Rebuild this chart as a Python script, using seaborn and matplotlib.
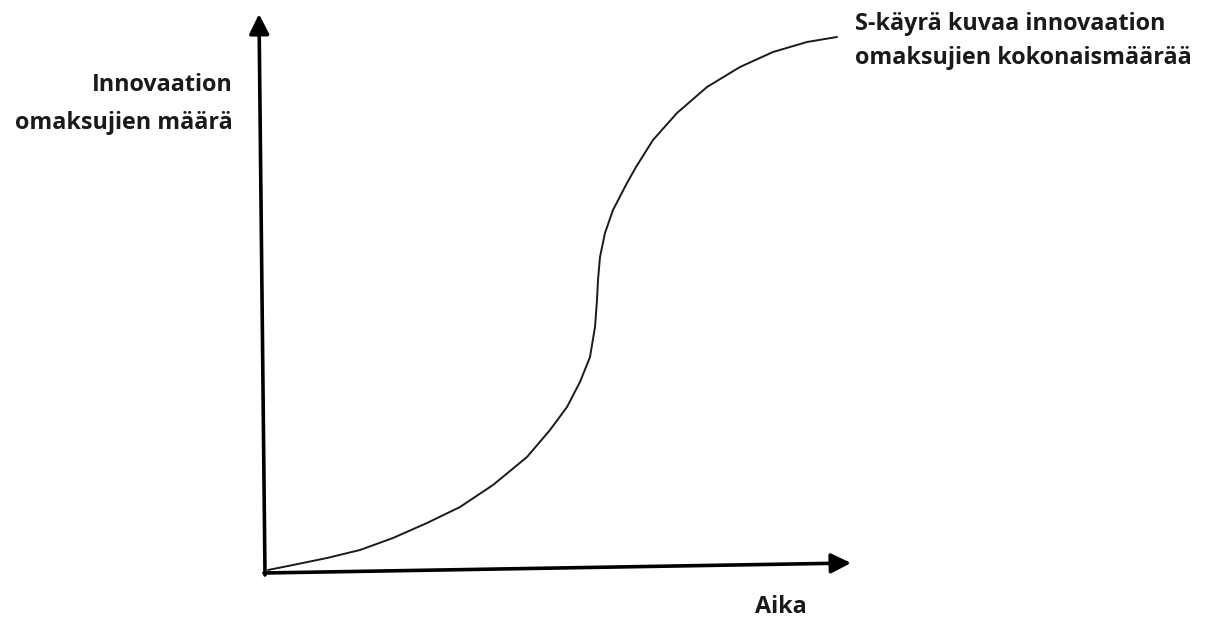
import numpy as np
import pandas as pd
import matplotlib
matplotlib.use("Agg")
import matplotlib.pyplot as plt
import seaborn as sns

# ========== data (pixel-like units, y grows downwards) ==========
curve_x = [268, 293, 327, 360, 393, 427, 460, 493, 527, 550, 567, 580, 590,
           595, 597, 598, 600, 605, 613, 627, 636, 653, 677, 707, 740, 773,
           807, 837]
curve_y = [570, 565, 558, 550, 538, 523, 507, 485, 457, 430, 407, 382, 357,
           327, 300, 280, 257, 233, 210, 183, 167, 140, 113, 87, 67, 52,
           42, 37]

y_axis_x = [265, 259]
y_axis_y = [575, 14]
x_axis_x = [264, 851]
x_axis_y = [573, 563]

y_label = "Innovaation\nomaksujien määrä"
x_label = "Aika"
curve_note = "S-käyrä kuvaa innovaation\nomaksujien kokonaismäärää"

# ========== plot ==========
sns.set_theme(style="white")
plt.rcParams["font.family"] = ["Open Sans", "DejaVu Sans"]

fig = plt.figure(figsize=(12.05, 6.18), dpi=100)
ax = fig.add_axes([0, 0, 1, 1])
ax.set_xlim(0, 1205)
ax.set_ylim(618, 0)
ax.axis("off")

df = pd.DataFrame({"x": curve_x, "y": curve_y})
sns.lineplot(data=df, x="x", y="y", sort=False, ax=ax, color="#1a1a1a",
             linewidth=1.4, solid_joinstyle="round", solid_capstyle="round")

arrow = dict(arrowstyle="-|>,head_length=0.6,head_width=0.3",
             color="black", lw=2.6, mutation_scale=20, shrinkA=0, shrinkB=0)
ax.annotate("", xy=(y_axis_x[1], y_axis_y[1]), xytext=(y_axis_x[0], y_axis_y[0]),
            arrowprops=arrow)
ax.annotate("", xy=(x_axis_x[1], x_axis_y[1]), xytext=(x_axis_x[0], x_axis_y[0]),
            arrowprops=arrow)

txt = dict(fontsize=16.8, fontweight="bold", color="#1a1a1a")
ax.text(233, 104, y_label, ha="right", va="center", linespacing=1.8, **txt)
ax.text(855, 41, curve_note, ha="left", va="center", linespacing=1.6, **txt)
ax.text(781, 607, x_label, ha="center", va="center", **txt)

fig.savefig("out.png", dpi=100)
